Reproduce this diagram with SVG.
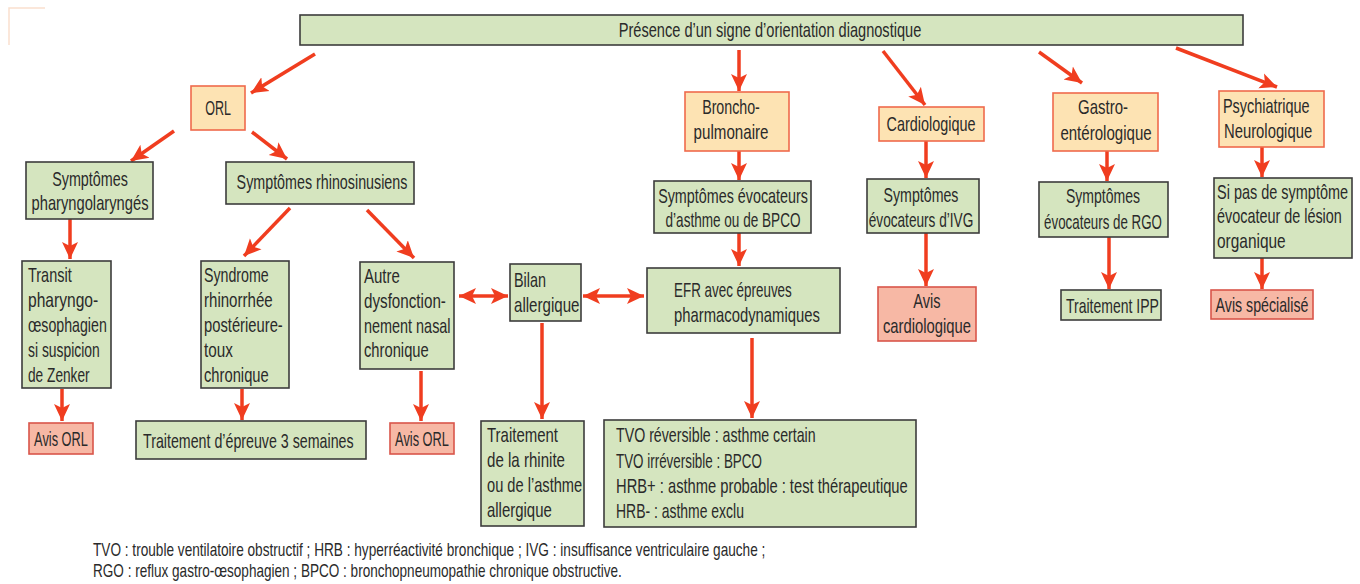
<svg xmlns="http://www.w3.org/2000/svg" width="1360" height="584" viewBox="0 0 1360 584">
<style>
.g{fill:#d5e5bf;stroke:#3c3c3c;stroke-width:1.6}
.o{fill:#fde3b3;stroke:#ef6a4c;stroke-width:1.6}
.s{fill:#f7b8a5;stroke:#d9554a;stroke-width:1.6}
text{font-family:"Liberation Sans",Arial,sans-serif;font-size:20px;fill:#2a2a2a}
.c{text-anchor:middle}
.lg{font-size:18px}
.a{stroke:#f03d1f;stroke-width:3.5;fill:none;marker-end:url(#ah)}
.d{stroke:#f03d1f;stroke-width:3.5;fill:none;marker-end:url(#ah);marker-start:url(#ah)}
</style>
<defs>
<marker id="ah" markerUnits="userSpaceOnUse" markerWidth="18" markerHeight="18" viewBox="0 0 18 18" refX="17" refY="9" orient="auto-start-reverse">
<path d="M0,1 L17,9 L0,17 L4,9 z" fill="#f03d1f"/>
</marker>
</defs>
<rect width="1360" height="584" fill="#ffffff"/>
<path d="M9,45 L9,8 L45,8" fill="none" stroke="#f6d2b8" stroke-width="1.5" opacity="0.7"/>

<g id="connectors">
<line class="a" x1="315" y1="54" x2="251" y2="93"/>
<line class="a" x1="174" y1="131" x2="131" y2="161"/>
<line class="a" x1="252" y1="132" x2="287" y2="159"/>
<line class="a" x1="290" y1="208" x2="244" y2="256"/>
<line class="a" x1="367" y1="210" x2="414" y2="258"/>
<line class="a" x1="70" y1="219" x2="70" y2="259"/>
<line class="a" x1="62" y1="389" x2="62" y2="421"/>
<line class="a" x1="242" y1="389" x2="242" y2="420"/>
<line class="a" x1="421" y1="371" x2="421" y2="421"/>
<line class="d" x1="459" y1="296" x2="508" y2="296"/>
<line class="d" x1="583" y1="296" x2="644" y2="296"/>
<line class="a" x1="542" y1="323" x2="542" y2="419"/>
<line class="a" x1="752" y1="338" x2="752" y2="418"/>
<line class="a" x1="739" y1="50" x2="739" y2="91"/>
<line class="a" x1="739" y1="151" x2="739" y2="180"/>
<line class="a" x1="739" y1="233" x2="739" y2="266"/>
<line class="a" x1="883" y1="51" x2="925" y2="105"/>
<line class="a" x1="926" y1="141" x2="926" y2="178"/>
<line class="a" x1="926" y1="233" x2="926" y2="286"/>
<line class="a" x1="1039" y1="52" x2="1082" y2="83"/>
<line class="a" x1="1107" y1="151" x2="1107" y2="181"/>
<line class="a" x1="1109" y1="237" x2="1109" y2="289"/>
<line class="a" x1="1176" y1="48" x2="1277" y2="87"/>
<line class="a" x1="1262" y1="147" x2="1262" y2="177"/>
<line class="a" x1="1262" y1="258" x2="1262" y2="289"/>
</g>

<g id="top">
<rect class="g" x="300" y="15" width="943" height="30"/>
<text class="c" transform="translate(770 37) scale(.78 1)" textLength="388" lengthAdjust="spacingAndGlyphs">Présence d’un signe d’orientation diagnostique</text>
</g>
<g id="orl">
<rect class="o" x="191" y="86" width="54" height="44"/>
<text class="c" transform="translate(218 115) scale(.78 1)" textLength="33" lengthAdjust="spacingAndGlyphs">ORL</text>
</g>
<g id="pharyngo">
<rect class="g" x="26" y="162" width="127" height="57"/>
<text class="c" transform="translate(90 186) scale(.78 1)" textLength="97" lengthAdjust="spacingAndGlyphs">Symptômes</text>
<text class="c" transform="translate(90 210) scale(.78 1)" textLength="150" lengthAdjust="spacingAndGlyphs">pharyngolaryngés</text>
</g>
<g id="rhino">
<rect class="g" x="226" y="162" width="188" height="42"/>
<text class="c" transform="translate(322 189) scale(.78 1)" textLength="219" lengthAdjust="spacingAndGlyphs">Symptômes rhinosinusiens</text>
</g>
<g id="transit">
<rect class="g" x="22" y="261" width="89" height="127"/>
<text transform="translate(28 282) scale(.78 1)" textLength="56" lengthAdjust="spacingAndGlyphs">Transit</text>
<text transform="translate(28 307) scale(.78 1)" textLength="90" lengthAdjust="spacingAndGlyphs">pharyngo-</text>
<text transform="translate(28 332) scale(.78 1)" textLength="101" lengthAdjust="spacingAndGlyphs">œsophagien</text>
<text transform="translate(28 357) scale(.78 1)" textLength="92" lengthAdjust="spacingAndGlyphs">si suspicion</text>
<text transform="translate(28 382) scale(.78 1)" textLength="79" lengthAdjust="spacingAndGlyphs">de Zenker</text>
</g>
<g id="syndrome">
<rect class="g" x="201" y="261" width="88" height="127"/>
<text transform="translate(204 282) scale(.78 1)" textLength="83" lengthAdjust="spacingAndGlyphs">Syndrome</text>
<text transform="translate(204 307) scale(.78 1)" textLength="88" lengthAdjust="spacingAndGlyphs">rhinorrhée</text>
<text transform="translate(204 332) scale(.78 1)" textLength="101" lengthAdjust="spacingAndGlyphs">postérieure-</text>
<text transform="translate(204 357) scale(.78 1)" textLength="37" lengthAdjust="spacingAndGlyphs">toux</text>
<text transform="translate(204 382) scale(.78 1)" textLength="83" lengthAdjust="spacingAndGlyphs">chronique</text>
</g>
<g id="autre">
<rect class="g" x="360" y="262" width="94" height="107"/>
<text transform="translate(364 283) scale(.78 1)" textLength="46" lengthAdjust="spacingAndGlyphs">Autre</text>
<text transform="translate(364 308) scale(.78 1)" textLength="105" lengthAdjust="spacingAndGlyphs">dysfonction-</text>
<text transform="translate(364 333) scale(.78 1)" textLength="111" lengthAdjust="spacingAndGlyphs">nement nasal</text>
<text transform="translate(364 357) scale(.78 1)" textLength="83" lengthAdjust="spacingAndGlyphs">chronique</text>
</g>
<g id="avis-orl-1">
<rect class="s" x="29" y="423" width="64" height="31"/>
<text class="c" transform="translate(61 446) scale(.78 1)" textLength="69" lengthAdjust="spacingAndGlyphs">Avis ORL</text>
</g>
<g id="traitement-epreuve">
<rect class="g" x="136" y="421" width="230" height="38"/>
<text transform="translate(143 448) scale(.78 1)" textLength="270" lengthAdjust="spacingAndGlyphs">Traitement d’épreuve 3 semaines</text>
</g>
<g id="avis-orl-2">
<rect class="s" x="390" y="423" width="64" height="31"/>
<text class="c" transform="translate(422 446) scale(.78 1)" textLength="69" lengthAdjust="spacingAndGlyphs">Avis ORL</text>
</g>
<g id="bilan">
<rect class="g" x="510" y="264" width="71" height="57"/>
<text transform="translate(514 287) scale(.78 1)" textLength="41" lengthAdjust="spacingAndGlyphs">Bilan</text>
<text transform="translate(514 312) scale(.78 1)" textLength="84" lengthAdjust="spacingAndGlyphs">allergique</text>
</g>
<g id="efr">
<rect class="g" x="647" y="268" width="193" height="65"/>
<text transform="translate(674 297) scale(.78 1)" textLength="151" lengthAdjust="spacingAndGlyphs">EFR avec épreuves</text>
<text transform="translate(674 322) scale(.78 1)" textLength="187" lengthAdjust="spacingAndGlyphs">pharmacodynamiques</text>
</g>
<g id="traitement-rhinite">
<rect class="g" x="481" y="421" width="103" height="105"/>
<text transform="translate(487 442) scale(.78 1)" textLength="91" lengthAdjust="spacingAndGlyphs">Traitement</text>
<text transform="translate(487 467) scale(.78 1)" textLength="100" lengthAdjust="spacingAndGlyphs">de la rhinite</text>
<text transform="translate(487 492) scale(.78 1)" textLength="122" lengthAdjust="spacingAndGlyphs">ou de l’asthme</text>
<text transform="translate(487 517) scale(.78 1)" textLength="83" lengthAdjust="spacingAndGlyphs">allergique</text>
</g>
<g id="tvo">
<rect class="g" x="604" y="420" width="312" height="107"/>
<text transform="translate(616 442) scale(.78 1)" textLength="256" lengthAdjust="spacingAndGlyphs">TVO réversible : asthme certain</text>
<text transform="translate(616 468) scale(.78 1)" textLength="187" lengthAdjust="spacingAndGlyphs">TVO irréversible : BPCO</text>
<text transform="translate(616 493) scale(.78 1)" textLength="374" lengthAdjust="spacingAndGlyphs">HRB+ : asthme probable : test thérapeutique</text>
<text transform="translate(616 518) scale(.78 1)" textLength="164" lengthAdjust="spacingAndGlyphs">HRB- : asthme exclu</text>
</g>
<g id="broncho">
<rect class="o" x="685" y="92" width="104" height="59"/>
<text class="c" transform="translate(731 114) scale(.78 1)" textLength="74" lengthAdjust="spacingAndGlyphs">Broncho-</text>
<text class="c" transform="translate(731 139) scale(.78 1)" textLength="96" lengthAdjust="spacingAndGlyphs">pulmonaire</text>
</g>
<g id="asthme">
<rect class="g" x="654" y="181" width="157" height="52"/>
<text class="c" transform="translate(733 203) scale(.78 1)" textLength="192" lengthAdjust="spacingAndGlyphs">Symptômes évocateurs</text>
<text class="c" transform="translate(733 227) scale(.78 1)" textLength="173" lengthAdjust="spacingAndGlyphs">d’asthme ou de BPCO</text>
</g>
<g id="cardio">
<rect class="o" x="879" y="107" width="105" height="34"/>
<text class="c" transform="translate(931 131) scale(.78 1)" textLength="114" lengthAdjust="spacingAndGlyphs">Cardiologique</text>
</g>
<g id="ivg">
<rect class="g" x="867" y="179" width="112" height="54"/>
<text class="c" transform="translate(921 202) scale(.78 1)" textLength="96" lengthAdjust="spacingAndGlyphs">Symptômes</text>
<text class="c" transform="translate(921 227) scale(.78 1)" textLength="134" lengthAdjust="spacingAndGlyphs">évocateurs d’IVG</text>
</g>
<g id="avis-cardio">
<rect class="s" x="878" y="287" width="98" height="54"/>
<text class="c" transform="translate(927 308) scale(.78 1)" textLength="35" lengthAdjust="spacingAndGlyphs">Avis</text>
<text class="c" transform="translate(927 333) scale(.78 1)" textLength="113" lengthAdjust="spacingAndGlyphs">cardiologique</text>
</g>
<g id="gastro">
<rect class="o" x="1053" y="93" width="105" height="58"/>
<text class="c" transform="translate(1103 114) scale(.78 1)" textLength="64" lengthAdjust="spacingAndGlyphs">Gastro-</text>
<text class="c" transform="translate(1106 140) scale(.78 1)" textLength="117" lengthAdjust="spacingAndGlyphs">entérologique</text>
</g>
<g id="rgo">
<rect class="g" x="1039" y="182" width="129" height="55"/>
<text class="c" transform="translate(1103 203) scale(.78 1)" textLength="95" lengthAdjust="spacingAndGlyphs">Symptômes</text>
<text class="c" transform="translate(1103 229) scale(.78 1)" textLength="151" lengthAdjust="spacingAndGlyphs">évocateurs de RGO</text>
</g>
<g id="ipp">
<rect class="g" x="1061" y="290" width="100" height="30"/>
<text transform="translate(1066 313) scale(.78 1)" textLength="119" lengthAdjust="spacingAndGlyphs">Traitement IPP</text>
</g>
<g id="psych">
<rect class="o" x="1219" y="91" width="105" height="56"/>
<text transform="translate(1223 113) scale(.78 1)" textLength="111" lengthAdjust="spacingAndGlyphs">Psychiatrique</text>
<text transform="translate(1224 138) scale(.78 1)" textLength="113" lengthAdjust="spacingAndGlyphs">Neurologique</text>
</g>
<g id="sipas">
<rect class="g" x="1214" y="178" width="138" height="80"/>
<text transform="translate(1217 199) scale(.78 1)" textLength="168" lengthAdjust="spacingAndGlyphs">Si pas de symptôme</text>
<text transform="translate(1217 223) scale(.78 1)" textLength="160" lengthAdjust="spacingAndGlyphs">évocateur de lésion</text>
<text transform="translate(1217 248) scale(.78 1)" textLength="88" lengthAdjust="spacingAndGlyphs">organique</text>
</g>
<g id="avis-specialise">
<rect class="s" x="1211" y="290" width="102" height="29"/>
<text class="c" transform="translate(1262 312) scale(.78 1)" textLength="119" lengthAdjust="spacingAndGlyphs">Avis spécialisé</text>
</g>
<g id="legend">
<text class="lg" transform="translate(93 556) scale(.78 1)" textLength="862" lengthAdjust="spacingAndGlyphs">TVO : trouble ventilatoire obstructif ; HRB : hyperréactivité bronchique ; IVG : insuffisance ventriculaire gauche ;</text>
<text class="lg" transform="translate(93 577) scale(.78 1)" textLength="678" lengthAdjust="spacingAndGlyphs">RGO : reflux gastro-œsophagien ; BPCO : bronchopneumopathie chronique obstructive.</text>
</g>
</svg>
